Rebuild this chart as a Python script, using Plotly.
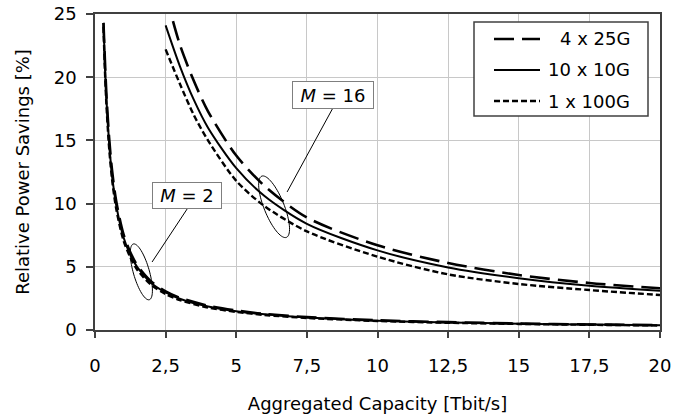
import numpy as np
import plotly.graph_objects as go

# Aggregated capacity [Tbit/s] sample points
capacity_m2 = [0.3, 0.35, 0.4, 0.5, 0.6, 0.75, 1, 1.25, 1.5, 2, 2.5, 3, 4, 5, 6,
               7.5, 10, 12.5, 15, 17.5, 20]
capacity_m16 = [2.5, 3, 3.5, 4, 5, 6, 7.5, 10, 12.5, 15, 17.5, 20]

# Relative power savings [%], M = 2
savings_m2_4x25 = [24.3, 21.4, 18.8, 15.2, 12.7, 10.2, 7.65, 6.15, 5.1, 3.82, 3.06,
                   2.55, 1.92, 1.54, 1.28, 1.02, 0.77, 0.62, 0.51, 0.44, 0.38]
savings_m2_10x10 = [24.3, 21.0, 18.4, 14.8, 12.3, 9.9, 7.4, 5.95, 4.95, 3.7, 2.97,
                    2.47, 1.86, 1.49, 1.24, 0.99, 0.74, 0.6, 0.5, 0.43, 0.37]
savings_m2_1x100 = [24.0, 20.6, 18.0, 14.4, 12.0, 9.6, 7.15, 5.75, 4.75, 3.55, 2.85,
                    2.37, 1.78, 1.43, 1.19, 0.95, 0.71, 0.57, 0.48, 0.41, 0.36]

# Relative power savings [%], M = 16
savings_m16_4x25 = [26.6, 22.6, 19.7, 17.3, 13.8, 11.4, 8.9, 6.7, 5.3, 4.35, 3.72, 3.3]
savings_m16_10x10 = [24.1, 20.9, 18.2, 16.0, 12.8, 10.6, 8.4, 6.3, 4.95, 4.1, 3.5, 3.1]
savings_m16_1x100 = [22.2, 19.5, 17.0, 15.0, 11.8, 9.8, 7.8, 5.8, 4.4, 3.64, 3.16, 2.77]

series_names = ["4 x 25G", "10 x 10G", "1 x 100G"]
x_ticks = [0, 2.5, 5, 7.5, 10, 12.5, 15, 17.5, 20]
x_tick_labels = ["0", "2,5", "5", "7,5", "10", "12,5", "15", "17,5", "20"]
y_ticks = [0, 5, 10, 15, 20, 25]

FONT = "DejaVu Sans, Arial, sans-serif"
FS = 18
W, H = 673, 418
M_L, M_R, M_T, M_B = 95, 13, 14, 88
X_RANGE, Y_RANGE = (0, 20), (0, 25)
PLOT_W, PLOT_H = W - M_L - M_R, H - M_T - M_B
px_per_x = PLOT_W / (X_RANGE[1] - X_RANGE[0])
px_per_y = PLOT_H / (Y_RANGE[1] - Y_RANGE[0])

line_styles = {
    "4 x 25G": dict(color="black", width=2.6, dash="20px,8px"),
    "10 x 10G": dict(color="black", width=2.0, dash="solid"),
    "1 x 100G": dict(color="black", width=2.4, dash="6px,3px"),
}

fig = go.Figure()

m2_series = [savings_m2_4x25, savings_m2_10x10, savings_m2_1x100]
m16_series = [savings_m16_4x25, savings_m16_10x10, savings_m16_1x100]

for group, series in (("M = 2", m2_series), ("M = 16", m16_series)):
    xs = capacity_m2 if group == "M = 2" else capacity_m16
    for name, ys in zip(series_names, series):
        fig.add_trace(go.Scatter(
            x=xs, y=ys, mode="lines", name=f"{name} ({group})",
            line=dict(shape="spline", smoothing=0.8, **line_styles[name]),
            showlegend=False, hoverinfo="skip",
        ))


def ellipse_path(cx, cy, semi_major, semi_minor, tilt_deg):
    """Tilted ellipse, centre in data units, axes in screen pixels."""
    t = np.linspace(0, 2 * np.pi, 73)
    th = np.radians(tilt_deg)
    ux, uy = np.sin(th), np.cos(th)
    vx, vy = np.cos(th), -np.sin(th)
    dx = semi_major * np.cos(t) * ux + semi_minor * np.sin(t) * vx
    dy = semi_major * np.cos(t) * uy + semi_minor * np.sin(t) * vy
    xs = cx + dx / px_per_x
    ys = cy - dy / px_per_y
    pts = [f"{x:.4f},{y:.4f}" for x, y in zip(xs, ys)]
    return "M " + " L ".join(pts) + " Z"


thin = dict(color="black", width=1)
fig.add_shape(type="path", path=ellipse_path(6.34, 9.75, 33, 10, 22), line=thin,
              xref="x", yref="y")
fig.add_shape(type="path", path=ellipse_path(1.64, 4.6, 29, 8, 16), line=thin,
              xref="x", yref="y")
fig.add_shape(type="line", x0=8.42, y0=17.56, x1=6.80, y1=10.92, line=thin,
              xref="x", yref="y")
fig.add_shape(type="line", x0=3.26, y0=9.57, x1=2.02, y1=5.38, line=thin,
              xref="x", yref="y")

label_style = dict(showarrow=False, bgcolor="white", bordercolor="#7f7f7f",
                   borderwidth=1, borderpad=1,
                   font=dict(family=FONT, size=FS, color="black"),
                   xref="x", yref="y")
fig.add_annotation(x=8.41, y=18.59, text="<i>M</i> = 16", width=78, height=24,
                   **label_style)
fig.add_annotation(x=3.27, y=10.68, text="<i>M</i> = 2", width=66, height=23,
                   **label_style)


# Legend box (paper coordinates relative to the plot area)
def to_paper_x(px):
    return (px - M_L) / PLOT_W


def to_paper_y(py):
    return (M_T + PLOT_H - py) / PLOT_H


fig.add_shape(type="rect", xref="paper", yref="paper",
              x0=to_paper_x(474), x1=to_paper_x(648),
              y0=to_paper_y(116), y1=to_paper_y(22),
              line=dict(color="#404040", width=1.5), fillcolor="white",
              layer="above")
for i, name in enumerate(series_names):
    row_y = to_paper_y(39 + 31 * i)
    fig.add_shape(type="line", xref="paper", yref="paper",
                  x0=to_paper_x(494), x1=to_paper_x(540), y0=row_y, y1=row_y,
                  line=line_styles[name], layer="above")
    fig.add_annotation(x=to_paper_x(632), y=row_y, xref="paper", yref="paper",
                       text=name, showarrow=False, xanchor="right",
                       yanchor="middle",
                       font=dict(family=FONT, size=FS, color="black"))

axis_common = dict(
    showgrid=True, gridcolor="#c8c8c8", gridwidth=1,
    showline=True, linecolor="#404040", linewidth=1.5, mirror=True,
    ticks="outside", tickcolor="#404040", tickwidth=1.5,
    zeroline=False, tickfont=dict(family=FONT, size=FS, color="black"),
    automargin=False,
)

fig.update_layout(
    width=W, height=H,
    margin=dict(l=M_L, r=M_R, t=M_T, b=M_B, pad=0, autoexpand=False),
    paper_bgcolor="white", plot_bgcolor="white",
    font=dict(family=FONT, size=FS, color="black"),
    xaxis=dict(range=list(X_RANGE), tickvals=x_ticks, ticktext=x_tick_labels,
               ticklen=6, ticklabelstandoff=13,
               title=dict(text="Aggregated Capacity [Tbit/s]", standoff=22,
                          font=dict(family=FONT, size=FS)),
               **axis_common),
    yaxis=dict(range=list(Y_RANGE), tickvals=y_ticks, ticklen=7,
               ticklabelstandoff=6,
               title=dict(text="Relative Power Savings [%]", standoff=19,
                          font=dict(family=FONT, size=FS)),
               **axis_common),
    showlegend=False,
)

fig.write_html("out.html")
